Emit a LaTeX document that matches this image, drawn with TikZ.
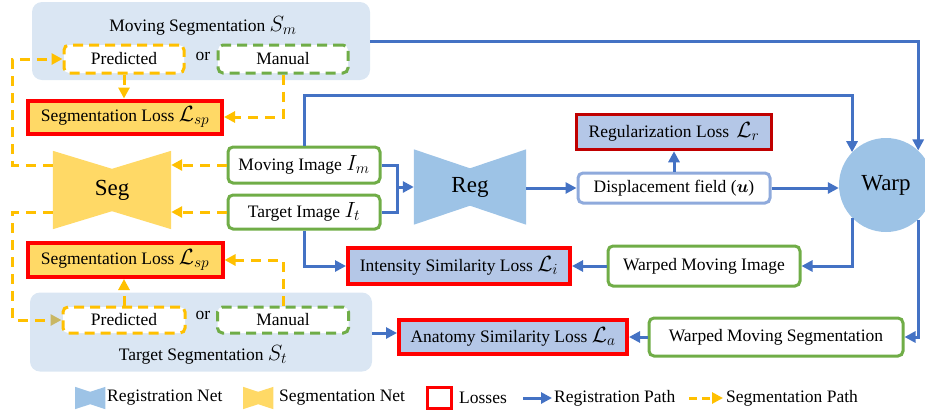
\RequirePackage{fix-cm}
\documentclass[tikz,border=0pt]{standalone}
\usepackage{fontspec}
\setmainfont{Liberation Serif}
\usepackage{amsmath}
\usepackage{xcolor}
\definecolor{regblue}{RGB}{68,114,196}
\definecolor{segorange}{RGB}{255,192,0}
\definecolor{segfill}{RGB}{255,217,102}
\definecolor{netblue}{RGB}{157,195,230}
\definecolor{groupblue}{RGB}{218,230,243}
\definecolor{lossblue}{RGB}{180,199,231}
\definecolor{boxgreen}{RGB}{112,173,71}
\definecolor{lossred}{RGB}{255,0,0}
\definecolor{darklossred}{RGB}{192,0,0}
\definecolor{fieldblue}{RGB}{143,170,220}
\definecolor{tipkhaki}{RGB}{201,183,99}
\usepackage{tikz}
\usetikzlibrary{arrows.meta}
\usetikzlibrary{backgrounds}
\newcommand{\boxfont}{\fontsize{17.5}{21}\selectfont}
\newcommand{\netfont}{\fontsize{23}{27}\selectfont}
\newcommand{\legendfont}{\fontsize{17.5}{20}\selectfont}
\newcommand{\mbig}[1]{{\fontsize{22}{22}\selectfont$#1$}}
\newcommand{\netshape}[3]{\fill[#2] (#1.north west) -- ([yshift=-#3]#1.north) -- (#1.north east)
    -- (#1.south east) -- ([yshift=#3]#1.south) -- (#1.south west) -- cycle;}
\tikzset{
    common/.style={rectangle, inner sep=0pt, font=\boxfont},
    group/.style={common, fill=groupblue, rounded corners=10pt},
    imagebox/.style={common, draw=boxgreen, line width=3pt, rounded corners=5pt, fill=white},
    fieldbox/.style={imagebox, draw=fieldblue},
    predbox/.style={common, draw=segorange, line width=3pt, dash pattern=on 10pt off 6pt, rounded corners=5pt, fill=white},
    manualbox/.style={predbox, draw=boxgreen},
    loss/.style={common, draw=lossred, line width=4pt, fill=lossblue},
    segloss/.style={loss, fill=segfill},
    regloss/.style={loss, draw=darklossred, line width=3.5pt},
    net/.style={common, font=\netfont},
    warpnode/.style={circle, fill=netblue, minimum size=94pt, inner sep=0pt, font=\netfont},
    legicon/.style={rectangle, inner sep=0pt, minimum width=30pt, minimum height=22pt, anchor=west},
    legtext/.style={anchor=west, inner sep=0pt, font=\legendfont},
    regpath/.style={draw=regblue, line width=3pt, -{Triangle[length=11pt,width=11pt]}},
    segpath/.style={draw=segorange, line width=3pt, dash pattern=on 10pt off 7pt, -{Triangle[length=11pt,width=11pt]}},
    regline/.style={draw=regblue, line width=3pt}
}
\begin{document}
\begin{tikzpicture}[x=1pt, y=-1pt]
\useasboundingbox (0,0) rectangle (925,416);

% moving segmentation
\node[group, minimum width=338pt, minimum height=78pt] (mseg) at (201,41) {};
\node[common] (msegtitle) at (203,26) {Moving Segmentation \mbig{S_m}};
\node[predbox, minimum width=120pt, minimum height=28pt] (mpred) at (124,59) {Predicted};
\node[common] (mor) at (203,56) {or};
\node[manualbox, minimum width=130pt, minimum height=28pt] (mman) at (283,59) {Manual};
\node[segloss, minimum width=194pt, minimum height=33pt] (mloss) at (125,117) {Segmentation Loss \mbig{\mathcal{L}_{sp}}};

% networks
\node[net, minimum width=118pt, minimum height=78pt] (seg) at (112,190) {Seg};
\node[net, minimum width=112pt, minimum height=75pt] (reg) at (470,187) {Reg};
\node[warpnode] (warp) at (886,185) {Warp};
\begin{pgfonlayer}{background}
    \netshape{seg}{segfill}{18pt}
    \netshape{reg}{netblue}{19pt}
\end{pgfonlayer}

% images, field and losses
\node[imagebox, minimum width=152pt, minimum height=36pt] (mimg) at (304,165) {Moving Image \mbig{I_m}};
\node[imagebox, minimum width=152pt, minimum height=34pt] (timg) at (304,212) {Target Image \mbig{I_t}};
\node[fieldbox, minimum width=192pt, minimum height=30pt] (disp) at (674,188) {Displacement field ($\boldsymbol{u}$)};
\node[regloss, minimum width=195pt, minimum height=35pt] (rloss) at (674,132) {Regularization Loss\, \mbig{\mathcal{L}_r}};
\node[imagebox, minimum width=192pt, minimum height=40pt] (wimg) at (704,266) {Warped Moving Image};
\node[loss, minimum width=222pt, minimum height=36pt] (iloss) at (459,266) {Intensity Similarity Loss \mbig{\mathcal{L}_i}};
\node[imagebox, minimum width=254pt, minimum height=38pt] (wseg) at (776,337) {Warped Moving Segmentation};
\node[loss, minimum width=228pt, minimum height=34pt] (aloss) at (513,337) {Anatomy Similarity Loss \mbig{\mathcal{L}_a}};

% target segmentation
\node[group, minimum width=342pt, minimum height=79pt] (tseg) at (201,332) {};
\node[predbox, minimum width=122pt, minimum height=26pt] (tpred) at (124,320) {Predicted};
\node[common] (tor) at (203,315) {or};
\node[manualbox, minimum width=131pt, minimum height=26pt] (tman) at (283,320) {Manual};
\node[common] (tsegtitle) at (203,355) {Target Segmentation \mbig{S_t}};
\node[segloss, minimum width=195pt, minimum height=34pt] (tloss) at (125,260) {Segmentation Loss \mbig{\mathcal{L}_{sp}}};

% registration path
\coordinate (merge) at (397,187);
\draw[regline] (mimg.east) -| (merge);
\draw[regline] (timg.east) -| (merge);
\draw[regpath] (merge) -- (merge -| reg.west);
\draw[regpath] (reg.east |- disp.west) -- (disp.west);
\draw[regpath] (disp.north) -- (rloss.south);
\draw[regpath] (disp.east) -- (disp.east -| warp.west);
\path (warp.136) ++(0,-57) coordinate (wtop);
\draw[regpath] (mimg.north) |- (wtop) -- (warp.136);
\draw[regpath] (mseg.east) -| (warp.47);
\draw[regpath] (warp.224) |- (wimg.east);
\draw[regpath] (warp.313) |- (wseg.east);
\draw[regpath] (wimg.west) -- (iloss.east);
\draw[regpath] (wseg.west) -- (aloss.east);
\draw[regpath] (timg.south) |- (iloss.west);
\draw[regpath] ([yshift=-1pt]tseg.east) -- ([yshift=-1pt]tseg.east -| aloss.west);

% segmentation path
\draw[segpath] (mpred.south) -- (mpred.south |- mloss.north);
\draw[segpath] (mman.south) |- (mloss.east);
\draw[segpath] (mimg.west) -- (mimg.west -| seg.east);
\draw[segpath] (timg.west) -- (timg.west -| seg.east);
\draw[segpath] (seg.west |- mimg.west) -- ++(-40,0) |- (mpred.west);
\draw[segpath, -{Triangle[length=11pt,width=11pt,color=tipkhaki]}] (seg.west |- timg.west) -- ++(-40,0) |- (tpred.west);
\draw[segpath] (tpred.north) -- (tpred.north |- tloss.south);
\draw[segpath] (tman.north) |- (tloss.east);

% legend
\path (75,398) node[legicon] (legreg) {}
    ++(32,0) node[legtext] (legregtext) {Registration Net}
    ++(136,0) node[legicon] (legseg) {}
    ++(36,0) node[legtext] (legsegtext) {Segmentation Net}
    ++(147,0) node[legicon, minimum width=24pt, minimum height=21pt, draw=lossred, line width=3pt] (legloss) {}
    ++(33,0) node[legtext] (leglosstext) {Losses}
    ++(64,0) coordinate (legrega)
    ++(29,0) coordinate (legregb)
    ++(2,0) node[legtext] (legpathtext) {Registration Path}
    ++(135,0) coordinate (legsega)
    ++(34,0) coordinate (legsegb)
    ++(3,0) node[legtext] (legsegpathtext) {Segmentation Path};
\begin{pgfonlayer}{background}
    \netshape{legreg}{netblue}{5pt}
    \netshape{legseg}{segfill}{5pt}
\end{pgfonlayer}
\draw[regpath] (legrega) -- (legregb);
\draw[segpath, dash pattern=on 8pt off 5pt] (legsega) -- (legsegb);
\end{tikzpicture}
\end{document}
